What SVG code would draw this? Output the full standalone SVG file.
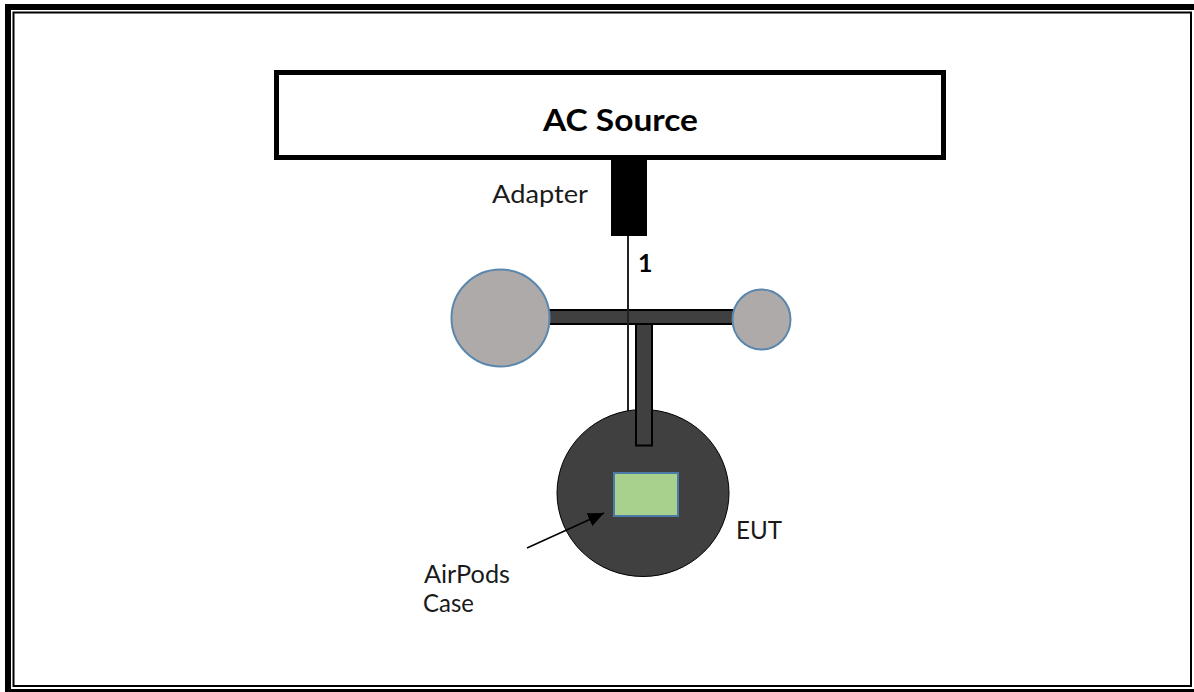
<svg xmlns="http://www.w3.org/2000/svg" width="1194" height="692" viewBox="0 0 1194 692">
<style>
.t{font-family:"Lato","Open Sans","Liberation Sans",sans-serif;font-size:25px;fill:#1a1a1a}
.b{font-weight:700;fill:#000}
.g{fill:#aeaaaa;stroke:#5b87ad;stroke-width:2}
.d{fill:#404040;stroke:#000;stroke-width:2}
</style>
<defs><marker id="ah" markerUnits="userSpaceOnUse" markerWidth="18" markerHeight="14" refX="16" refY="7" orient="auto"><path d="M0 0L16 7L0 14Z" fill="#000"/></marker></defs>
<rect width="1194" height="692" fill="#fff"/>
<g id="frame" fill="none" stroke="#000">
<rect x="8" y="7" width="1190" height="685" stroke-width="6"/>
<rect x="13.500" y="12.500" width="1177.500" height="673.500" stroke-width="2"/>
</g>
<g id="ac-source"><rect x="276.500" y="72.500" width="667" height="85" fill="#fff" stroke="#000" stroke-width="5"/><text x="620.500" y="131" text-anchor="middle" class="t b" style="font-size:31px" textLength="155" lengthAdjust="spacingAndGlyphs">AC Source</text></g>
<g id="adapter"><rect x="611" y="157" width="36" height="79" fill="#000"/><text x="492" y="203" class="t" textLength="96" lengthAdjust="spacingAndGlyphs">Adapter</text></g>
<text x="638" y="272" class="t b" style="font-size:25px">1</text>
<g id="airpods-bar"><rect x="549" y="310" width="185" height="14" class="d"/></g>
<g id="left-bud"><ellipse cx="500.500" cy="318" rx="49" ry="48.500" class="g"/></g>
<g id="right-bud"><ellipse cx="761.500" cy="319.500" rx="29" ry="30" class="g"/></g>
<g id="connectors">
<line x1="628" y1="236" x2="628" y2="412" stroke="#222" stroke-width="2"/>
</g>
<g id="eut"><ellipse cx="643" cy="493" rx="86" ry="83.500" fill="#404040" stroke="#000" stroke-width="1"/><rect x="636" y="324" width="16" height="121.500" class="d"/><text x="736" y="539" class="t" textLength="46" lengthAdjust="spacingAndGlyphs">EUT</text></g>
<g id="airpods-case"><rect x="614" y="473" width="64" height="43" fill="#a9d18e" stroke="#4a7ba6" stroke-width="2"/><line x1="527" y1="548" x2="604" y2="513" stroke="#000" stroke-width="1.500" marker-end="url(#ah)"/><text x="424" y="583" class="t" textLength="86" lengthAdjust="spacingAndGlyphs">AirPods</text><text x="423" y="612" class="t" textLength="51" lengthAdjust="spacingAndGlyphs">Case</text></g>
</svg>
